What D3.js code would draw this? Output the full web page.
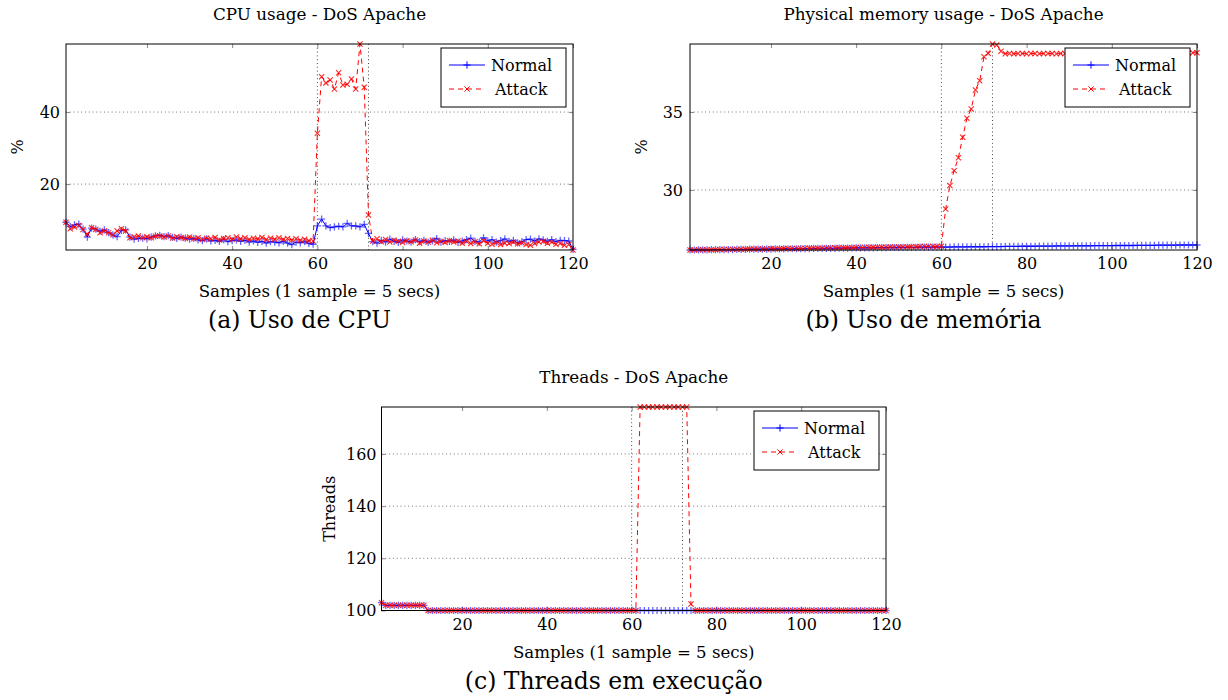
<!DOCTYPE html>
<html>
<head>
<meta charset="utf-8">
<script src="https://cdn.jsdelivr.net/npm/d3@7"></script>
<style>
  html, body { margin: 0; padding: 0; background: #fff; }
  svg text { font-family: "DejaVu Serif", "Liberation Serif", serif; fill: #000; }
</style>
</head>
<body>
<svg id="chart" width="1228" height="700"></svg>
<script>
// ---------------- DATA ----------------
const samples = d3.range(1, 121); // sample index 1..120
const xTickValues = [20, 40, 60, 80, 100, 120];
const extraXTicks = [60, 72];
const seriesNames = ["Normal", "Attack"];

// CPU usage (%)
const cpuNormal = [
  9.4, 8.2, 8.7, 8.9, 7.5, 5.3, 7.8, 7.5, 6.9, 7.3,
  6.5, 5.9, 5.4, 7.1, 7.3, 5.3, 4.7, 4.9, 5.0, 4.8,
  5.3, 5.6, 5.8, 5.4, 5.7, 5.2, 4.9, 5.3, 5.0, 4.7,
  4.9, 4.5, 4.3, 4.8, 4.2, 4.4, 4.1, 4.6, 4.0, 4.3,
  4.5, 4.1, 4.4, 3.9, 4.2, 3.8, 4.1, 3.6, 4.0, 3.9,
  3.7, 4.1, 3.6, 3.2, 3.9, 3.7, 4.0, 3.5, 3.3,
  8.4, 10.3, 8.4, 7.9, 8.1, 8.3, 8.1, 9.1, 8.4, 8.4, 8.1, 8.8, 6.3, 4.0,
  3.6, 4.4, 3.9, 4.7, 4.1, 3.8, 4.5,
  4.2, 3.9, 4.6, 4.0, 4.4, 3.8, 4.2, 4.9, 3.9, 4.3,
  4.1, 4.5, 3.8, 4.2, 4.6, 5.0, 4.1, 3.9, 5.1, 4.2,
  4.6, 3.9, 4.3, 4.8, 4.1, 4.4, 3.7, 4.0, 4.6, 4.7,
  4.2, 4.8, 4.5, 4.1, 4.6, 4.0, 4.4, 4.3, 4.2,
  1.9
];
const cpuAttack = [
  9.4, 7.6, 8.1, 8.5, 7.4, 6.1, 7.9, 7.4, 6.5, 7.0,
  6.5, 5.9, 7.0, 7.6, 7.0, 5.1, 5.4, 5.6, 5.1, 5.4,
  5.1, 5.5, 5.6, 5.3, 5.6, 5.0, 5.4, 5.2, 4.9, 5.3,
  4.8, 5.1, 4.6, 5.0, 4.8, 5.2, 4.5, 4.9, 5.1, 4.7,
  5.3, 4.8, 5.1, 4.6, 5.0, 4.8, 5.2, 4.6, 5.0, 4.7,
  5.1, 4.6, 4.9, 4.5, 4.8, 4.4, 4.7, 4.3, 4.2,
  34.1, 49.8, 48.1, 48.9, 46.4, 50.9, 47.5, 47.7, 49.2, 46.4, 58.9, 46.9, 11.4, 4.2,
  4.8, 4.0, 4.6, 3.9, 4.4, 4.1, 3.8,
  4.3, 4.0, 4.5, 3.6, 4.2, 3.9, 4.4, 3.7, 4.1, 3.8,
  4.3, 3.9, 4.2, 3.6, 4.1, 3.5, 4.0, 3.4, 4.3, 3.6,
  3.3, 3.8, 3.2, 3.6, 3.5, 3.9, 3.4, 3.7, 3.2, 3.0,
  3.5, 3.9, 4.1, 3.6, 3.9, 3.3, 3.5, 3.0, 3.2,
  1.7
];
const cpuYTicks = [20, 40];

// Physical memory usage (%)
const memNormal = [
  26.15, 26.15, 26.16, 26.16, 26.16, 26.17, 26.17, 26.17, 26.18, 26.18,
  26.18, 26.19, 26.19, 26.19, 26.20, 26.20, 26.20, 26.21, 26.21, 26.21,
  26.22, 26.22, 26.22, 26.23, 26.23, 26.23, 26.24, 26.24, 26.24, 26.25,
  26.25, 26.25, 26.26, 26.26, 26.26, 26.27, 26.27, 26.27, 26.28, 26.28,
  26.28, 26.29, 26.29, 26.29, 26.30, 26.30, 26.30, 26.31, 26.31, 26.31,
  26.32, 26.32, 26.32, 26.32, 26.33, 26.33, 26.33, 26.33, 26.34, 26.34,
  26.34, 26.34, 26.35, 26.35, 26.35, 26.35, 26.36, 26.36, 26.36, 26.36,
  26.37, 26.37, 26.37, 26.37, 26.38, 26.38, 26.38, 26.38, 26.39, 26.39,
  26.39, 26.39, 26.40, 26.40, 26.40, 26.40, 26.41, 26.41, 26.41, 26.41,
  26.42, 26.42, 26.42, 26.42, 26.42, 26.43, 26.43, 26.43, 26.43, 26.43,
  26.44, 26.44, 26.44, 26.44, 26.44, 26.45, 26.45, 26.45, 26.45, 26.45,
  26.46, 26.46, 26.46, 26.46, 26.46, 26.47, 26.47, 26.47, 26.47, 26.47
];
const memAttack = [
  26.15, 26.15, 26.16, 26.16, 26.17, 26.17, 26.17, 26.18, 26.18, 26.19,
  26.19, 26.19, 26.20, 26.20, 26.21, 26.21, 26.21, 26.22, 26.22, 26.23,
  26.23, 26.23, 26.24, 26.24, 26.25, 26.25, 26.25, 26.26, 26.26, 26.27,
  26.27, 26.27, 26.28, 26.28, 26.29, 26.29, 26.29, 26.30, 26.30, 26.31,
  26.31, 26.31, 26.32, 26.32, 26.33, 26.33, 26.33, 26.34, 26.34, 26.35,
  26.35, 26.35, 26.36, 26.36, 26.37, 26.37, 26.37, 26.38, 26.38,
  26.39,
  28.78, 30.28, 31.24, 32.07, 33.38, 34.60, 35.19, 36.41, 37.00, 38.54, 38.76, 39.36, 39.30, 38.90,
  38.74, 38.75, 38.74, 38.75, 38.75, 38.74, 38.75, 38.75, 38.74, 38.75,
  38.75, 38.75, 38.74, 38.75, 38.75, 38.75, 38.74, 38.75, 38.75, 38.75,
  38.75, 38.76, 38.75, 38.75, 38.76, 38.75, 38.76, 38.76, 38.75, 38.76,
  38.76, 38.76, 38.76, 38.77, 38.76, 38.77, 38.77, 38.77, 38.77, 38.78,
  38.78, 38.78, 38.79, 38.79, 38.80, 38.80
];
const memYTicks = [30, 35];

// Threads
const thrNormal = [
  103, 102, 102, 102, 102, 102, 102, 102, 102, 102,
  102, 100, 100, 100, 100, 100, 100, 100, 100, 100,
  100, 100, 100, 100, 100, 100, 100, 100, 100, 100,
  100, 100, 100, 100, 100, 100, 100, 100, 100, 100,
  100, 100, 100, 100, 100, 100, 100, 100, 100, 100,
  100, 100, 100, 100, 100, 100, 100, 100, 100, 100,
  100, 100, 100, 100, 100, 100, 100, 100, 100, 100,
  100, 100, 100, 100, 100, 100, 100, 100, 100, 100,
  100, 100, 100, 100, 100, 100, 100, 100, 100, 100,
  100, 100, 100, 100, 100, 100, 100, 100, 100, 100,
  100, 100, 100, 100, 100, 100, 100, 100, 100, 100,
  100, 100, 100, 100, 100, 100, 100, 100, 100, 100
];
const thrAttack = [
  103, 102, 102, 102, 102, 102, 102, 102, 102, 102,
  102, 100, 100, 100, 100, 100, 100, 100, 100, 100,
  100, 100, 100, 100, 100, 100, 100, 100, 100, 100,
  100, 100, 100, 100, 100, 100, 100, 100, 100, 100,
  100, 100, 100, 100, 100, 100, 100, 100, 100, 100,
  100, 100, 100, 100, 100, 100, 100, 100, 100, 100,
  100, 178, 178, 178, 178, 178, 178, 178, 178, 178,
  178, 178, 178, 102.5, 100, 100, 100, 100, 100, 100,
  100, 100, 100, 100, 100, 100, 100, 100, 100, 100,
  100, 100, 100, 100, 100, 100, 100, 100, 100, 100,
  100, 100, 100, 100, 100, 100, 100, 100, 100, 100,
  100, 100, 100, 100, 100, 100, 100, 100, 100, 100
];
const thrYTicks = [100, 120, 140, 160];

// ---------------- DRAWING ----------------
const svg = d3.select("#chart");
const BLUE = "#0000ff", RED = "#ff0000";
const plusPath = "M-3.6,0H3.6M0,-3.6V3.6";
const crossPath = "M-2.6,-2.6L2.6,2.6M-2.6,2.6L2.6,-2.6";

function drawPanel(o) {
  const g = svg.append("g");
  const x = d3.scaleLinear().domain([1, 120]).range([o.left, o.right]);
  const all = o.normal.concat(o.attack);
  const y = d3.scaleLinear().domain(d3.extent(all)).range([o.bottom, o.top]);
  const W = o.right - o.left, H = o.bottom - o.top;

  g.append("rect").attr("x", o.left).attr("y", o.top).attr("width", W).attr("height", H)
    .attr("fill", "#fff");

  // horizontal grid
  g.selectAll(".hg").data(o.yTicks).join("line")
    .attr("x1", o.left).attr("x2", o.right)
    .attr("y1", d => y(d)).attr("y2", d => y(d))
    .attr("stroke", "#666").attr("stroke-width", 0.9).attr("stroke-dasharray", "1,2.8");
  // extra vertical dotted lines
  g.selectAll(".vg").data(extraXTicks).join("line")
    .attr("x1", d => x(d)).attr("x2", d => x(d))
    .attr("y1", o.top).attr("y2", o.bottom)
    .attr("stroke", "#333").attr("stroke-width", 0.9).attr("stroke-dasharray", "1,2.8");

  // inner ticks via d3 axes
  const axB = g.append("g").attr("transform", `translate(0,${o.bottom})`)
    .call(d3.axisBottom(x).tickValues(xTickValues).tickSizeInner(-4).tickSizeOuter(0).tickPadding(8));
  const axT = g.append("g").attr("transform", `translate(0,${o.top})`)
    .call(d3.axisTop(x).tickValues(xTickValues).tickSizeInner(-4).tickSizeOuter(0).tickFormat(""));
  const axL = g.append("g").attr("transform", `translate(${o.left},0)`)
    .call(d3.axisLeft(y).tickValues(o.yTicks).tickSizeInner(-4).tickSizeOuter(0).tickPadding(o.yPad));
  const axR = g.append("g").attr("transform", `translate(${o.right},0)`)
    .call(d3.axisRight(y).tickValues(o.yTicks).tickSizeInner(-4).tickSizeOuter(0).tickFormat(""));
  [axB, axT, axL, axR].forEach(a => {
    a.select(".domain").remove();
    a.selectAll(".tick line").attr("stroke", "#888").attr("stroke-width", 1);
    a.selectAll(".tick text").attr("font-family", "DejaVu Serif").attr("font-size", 16).attr("fill", "#000");
  });

  // series
  const line = d3.line().x((d, i) => x(samples[i])).y(d => y(d));
  // Normal
  g.append("path").datum(o.normal).attr("d", line)
    .attr("fill", "none").attr("stroke", BLUE).attr("stroke-width", 1);
  g.selectAll(".mn").data(o.normal).join("path")
    .attr("d", plusPath)
    .attr("transform", (d, i) => `translate(${x(samples[i])},${y(d)})`)
    .attr("stroke", BLUE).attr("stroke-opacity", 0.6).attr("stroke-width", 1.3).attr("fill", "none");
  // Attack
  g.append("path").datum(o.attack).attr("d", line)
    .attr("fill", "none").attr("stroke", RED).attr("stroke-width", 1).attr("stroke-dasharray", "5,4");
  g.selectAll(".ma").data(o.attack).join("path")
    .attr("d", crossPath)
    .attr("transform", (d, i) => `translate(${x(samples[i])},${y(d)})`)
    .attr("stroke", RED).attr("stroke-opacity", 0.85).attr("stroke-width", 1.1).attr("fill", "none");

  // frame
  g.append("rect").attr("x", o.left).attr("y", o.top).attr("width", W).attr("height", H)
    .attr("fill", "none").attr("stroke", "#000").attr("stroke-width", 1);

  // legend
  const lx = o.right - 132, ly = o.top + 4;
  const lg = g.append("g").attr("transform", `translate(${lx},${ly})`);
  lg.append("rect").attr("x", 0).attr("y", 0).attr("width", 125).attr("height", 59)
    .attr("fill", "#fff").attr("stroke", "#000").attr("stroke-width", 1);
  const entries = [
    { name: seriesNames[0], color: BLUE, dash: null, mark: plusPath },
    { name: seriesNames[1], color: RED, dash: "5,4", mark: crossPath }
  ];
  entries.forEach((e, i) => {
    const yy = 17 + i * 24;
    lg.append("line").attr("x1", 8).attr("x2", 44).attr("y1", yy).attr("y2", yy)
      .attr("stroke", e.color).attr("stroke-width", 1).attr("stroke-dasharray", e.dash);
    lg.append("path").attr("d", e.mark).attr("transform", `translate(26,${yy})`)
      .attr("stroke", e.color).attr("stroke-width", 1).attr("fill", "none");
    lg.append("text").attr("x", i === 0 ? 50 : 54).attr("y", yy + 6)
      .attr("font-size", 16).text(e.name);
  });

  const cx = (o.left + o.right) / 2;
  g.append("text").attr("x", cx).attr("y", o.top - 24).attr("text-anchor", "middle")
    .attr("font-size", 16.8).text(o.title);
  g.append("text").attr("x", cx).attr("y", o.bottom + 47).attr("text-anchor", "middle")
    .attr("font-size", 16.6).text("Samples (1 sample = 5 secs)");
  g.append("text").attr("x", cx - 20).attr("y", o.bottom + 78).attr("text-anchor", "middle")
    .attr("font-size", 23.5).text(o.caption);
  g.append("text")
    .attr("transform", `translate(${o.ylabelX},${(o.top + o.bottom) / 2}) rotate(-90)`)
    .attr("text-anchor", "middle").attr("dy", "0.35em")
    .attr("font-size", 16).text(o.ylabel);
}

drawPanel({ left: 66, right: 573, top: 44, bottom: 250, normal: cpuNormal, attack: cpuAttack,
  yTicks: cpuYTicks, yPad: 6, title: "CPU usage - DoS Apache", ylabel: "%", ylabelX: 17,
  caption: "(a) Uso de CPU" });
drawPanel({ left: 690, right: 1197, top: 44, bottom: 250, normal: memNormal, attack: memAttack,
  yTicks: memYTicks, yPad: 7, title: "Physical memory usage - DoS Apache", ylabel: "%", ylabelX: 641,
  caption: "(b) Uso de memória" });
drawPanel({ left: 381.5, right: 886, top: 407, bottom: 610.5, normal: thrNormal, attack: thrAttack,
  yTicks: thrYTicks, yPad: 5, title: "Threads - DoS Apache", ylabel: "Threads", ylabelX: 329,
  caption: "(c) Threads em execução" });
</script>
</body>
</html>
